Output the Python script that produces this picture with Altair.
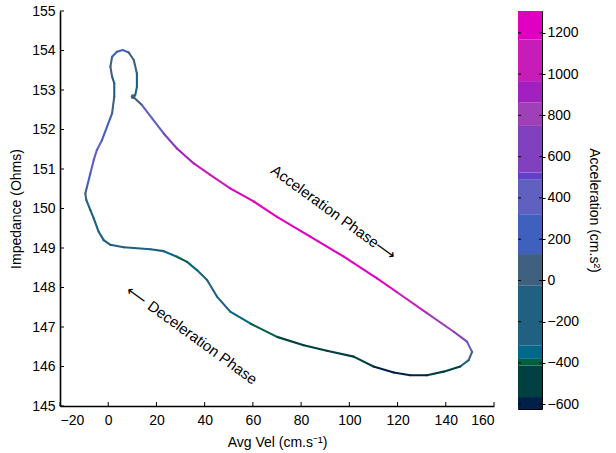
import altair as alt
import pandas as pd

# ---- data ----
vel = [10.3, 14.0, 18.2, 23.0, 28.5, 35.5, 42.3, 50.6, 60.3, 70.0, 83.8, 97.7, 111.5, 119.8,
       132.2, 143.3, 148.8, 150.9, 149.5, 146.0, 139.1, 132.2, 125.3, 118.4, 110.0, 101.8,
       90.7, 81.1, 70.0, 58.9, 50.6, 45.1, 41.0, 36.8, 32.7, 28.5, 23.0, 17.5, 6.4, 0.9,
       -1.9, -3.95, -6.0, -7.4, -9.1, -9.5, -8.8, -7.4, -6.0, -4.7, -2.6, 1.6, 2.5, 2.5,
       1.6, 0.9, 1.6, 3.6, 6.1, 8.5, 10.6, 11.9, 11.9, 11.2, 10.3]
imp = [152.83, 152.62, 152.28, 151.90, 151.52, 151.14, 150.85, 150.51, 150.18, 149.79,
       149.29, 148.78, 148.23, 147.88, 147.35, 146.88, 146.63, 146.37, 146.16, 146.00,
       145.87, 145.78, 145.78, 145.85, 146.00, 146.25, 146.40, 146.54, 146.75, 147.09,
       147.39, 147.77, 148.19, 148.44, 148.65, 148.78, 148.92, 148.97, 149.02, 149.08,
       149.20, 149.41, 149.75, 149.96, 150.22, 150.38, 150.55, 150.89, 151.23, 151.48,
       151.73, 152.41, 152.83, 153.17, 153.34, 153.59, 153.84, 153.97, 154.01, 153.95,
       153.76, 153.42, 153.08, 152.87, 152.83]
acc = [0, 250, 400, 550, 800, 950, 1100, 1200, 1250, 1250, 1250, 1250, 1250, 1250,
       1000, 700, 450, 250, -100, -390, -450, -550, -600, -600, -580, -500,
       -480, -450, -420, -350, -330, -250, -150, -250, -390, -400, -300, -200, -250, -200,
       -150, -150, -100, -100, 0, 50, 150, 300, 350, 350, 300, 250, 0, -100,
       -100, 50, 200, 250, 250, 200, 0, -50, -100, -50, 0]

# colour bar bands (value thresholds and colours)
thresholds = [-565, -412, -380, -315, -25, 128, 321, 491, 523, 749, 862, 966, 1168]
band_colors = ["#00204a", "#004040", "#006040", "#006888", "#206080", "#406080",
               "#4060c0", "#6060c0", "#6040c8", "#8040c0", "#a040b8", "#a020c0",
               "#c81cb8", "#e000c0"]
cbar_min, cbar_max = -623, 1306
cbar_ticks = [-600, -400, -200, 0, 200, 400, 600, 800, 1000, 1200]

x_ticks = [-20, 0, 20, 40, 60, 80, 100, 120, 140, 160]
y_ticks = [145, 146, 147, 148, 149, 150, 151, 152, 153, 154, 155]

ann_text = ["Acceleration Phase\u27f6", "\u27f5 Deceleration Phase"]
ann_x = [93.6, 34.7]
ann_y = [149.89, 146.8]

# ---- tables ----
pts = pd.DataFrame({"x": vel, "y": imp, "a": acc})
seg = pd.DataFrame({
    "x": pts["x"][:-1].values, "y": pts["y"][:-1].values,
    "x2": pts["x"][1:].values, "y2": pts["y"][1:].values,
    "a": ((pts["a"][:-1].values + pts["a"][1:].values) / 2.0),
})
start = pts.iloc[[0]]

W, H = 434, 395
FONT = "Liberation Sans"

xs = alt.Scale(domain=[-20, 160], nice=False, zero=False)
ys = alt.Scale(domain=[145, 155], nice=False, zero=False)
xaxis = alt.Axis(values=x_ticks, ticks=False, grid=False, labelPadding=7,
                 title="Avg Vel (cm.s\u207b\u00b9)", titlePadding=8, format="d")
yaxis = alt.Axis(values=y_ticks, ticks=False, grid=False, labelPadding=5,
                 title="Impedance (Ohms)", titlePadding=8, format="d")
cscale = alt.Scale(type="threshold", domain=thresholds, range=band_colors)

line = alt.Chart(seg).mark_rule(strokeWidth=2.1, strokeCap="round").encode(
    x=alt.X("x:Q", scale=xs, axis=xaxis),
    y=alt.Y("y:Q", scale=ys, axis=yaxis),
    x2="x2:Q", y2="y2:Q",
    color=alt.Color("a:Q", scale=cscale, legend=None),
)

dot = alt.Chart(start).mark_point(filled=True, size=22, opacity=1).encode(
    x=alt.X("x:Q", scale=xs, axis=xaxis),
    y=alt.Y("y:Q", scale=ys, axis=yaxis),
    color=alt.Color("a:Q", scale=cscale, legend=None),
)

xt = alt.Chart(pd.DataFrame({"x": x_ticks})).mark_rule(color="black", strokeWidth=1).encode(
    x=alt.X("x:Q", scale=xs, axis=xaxis), y=alt.value(H), y2=alt.value(H - 4))
yt = alt.Chart(pd.DataFrame({"y": y_ticks})).mark_rule(color="black", strokeWidth=1).encode(
    y=alt.Y("y:Q", scale=ys, axis=yaxis), x=alt.value(0), x2=alt.value(4))

ann = alt.Chart(pd.DataFrame({"x": ann_x, "y": ann_y, "t": ann_text})).mark_text(
    angle=36, fontSize=15, font=FONT, color="black", align="center", baseline="middle"
).encode(x=alt.X("x:Q", scale=xs, axis=xaxis), y=alt.Y("y:Q", scale=ys, axis=yaxis), text="t:N")

main = alt.layer(line, dot, xt, yt, ann).properties(width=W, height=H)

# ---- colour bar ----
lo = [cbar_min] + thresholds
hi = thresholds + [cbar_max]
bands = pd.DataFrame({"lo": lo, "hi": hi, "c": band_colors})
cys = alt.Scale(domain=[cbar_min, cbar_max], nice=False, zero=False)
caxis = alt.Axis(orient="right", values=cbar_ticks, grid=False, tickSize=3,
                 labelPadding=2, title="Acceleration (cm.s\u00b2)", titlePadding=8,
                 domain=False, format="d")
CW, CH = 24, 398
crect = alt.Chart(bands).mark_rect().encode(
    y=alt.Y("lo:Q", scale=cys, axis=caxis), y2="hi:Q",
    x=alt.value(0), x2=alt.value(CW),
    color=alt.Color("c:N", scale=None),
)
ctk = pd.DataFrame({"lo": cbar_ticks})
cl = alt.Chart(ctk).mark_rule(color="black", strokeWidth=1).encode(
    y=alt.Y("lo:Q", scale=cys, axis=caxis), x=alt.value(0), x2=alt.value(3))
cr = alt.Chart(ctk).mark_rule(color="black", strokeWidth=1).encode(
    y=alt.Y("lo:Q", scale=cys, axis=caxis), x=alt.value(CW - 3), x2=alt.value(CW))
cbar = alt.layer(crect, cl, cr).properties(
    width=CW, height=CH, view=alt.ViewBackground(stroke="black", strokeWidth=1))

chart = alt.hconcat(main, cbar, spacing=22).properties(
    padding={"left": 9, "top": 4, "right": 5, "bottom": 5}, background="white"
).configure_view(stroke=None).configure_axis(
    labelFont=FONT, titleFont=FONT, labelFontSize=14, titleFontSize=14,
    labelColor="black", titleColor="black", titleFontWeight="normal",
    domainColor="black", domainWidth=1.6, tickColor="black",
)

chart.save("out.html", embed_options={"renderer": "svg", "actions": False})
